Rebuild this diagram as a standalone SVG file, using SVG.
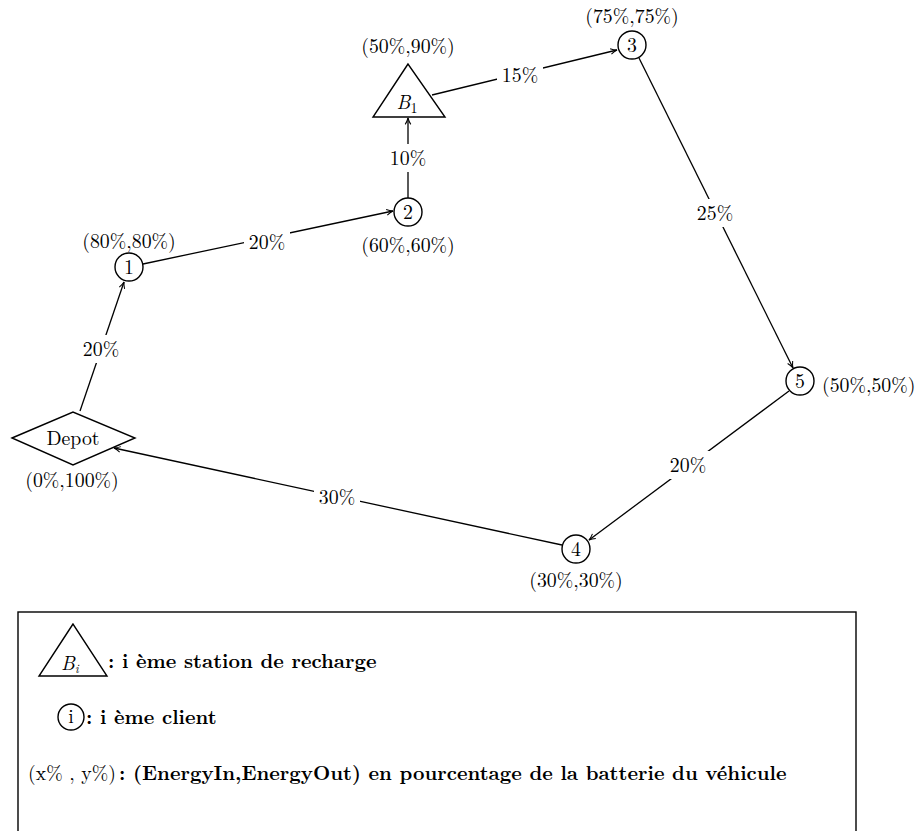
<svg xmlns="http://www.w3.org/2000/svg" width="915" height="831" viewBox="0 0 915 831">
<style>
text{font-family:"Latin Modern Roman","Liberation Serif","DejaVu Serif",serif;font-size:19.8px;fill:#000}
.lbl{text-anchor:middle}
.n{fill:#fff;stroke:#000;stroke-width:1.4}
.e{stroke:#000;stroke-width:1.3;fill:none;marker-end:url(#ar)}
.b{font-weight:bold;font-size:20px}
.bg{fill:#fff}
</style>
<defs>
<marker id="ar" viewBox="0 0 10 10" refX="9" refY="5" markerWidth="8" markerHeight="8" markerUnits="userSpaceOnUse" orient="auto">
<path d="M1,1.5 Q5,4 9,5 Q5,6 1,8.5" fill="none" stroke="#000" stroke-width="1.3"/>
</marker>
</defs>
<rect width="915" height="831" fill="#fff"/>
<g id="connectors">
<line class="e" x1="80" y1="411" x2="124" y2="282"/>
<line class="e" x1="143" y1="264" x2="393" y2="211"/>
<line class="e" x1="408" y1="198" x2="408" y2="118"/>
<line class="e" x1="432" y1="95" x2="617" y2="50"/>
<line class="e" x1="639" y1="58" x2="793" y2="368"/>
<line class="e" x1="789" y1="391" x2="589" y2="540"/>
<line class="e" x1="562" y1="545" x2="114" y2="448"/>
<rect class="bg" x="79" y="335" width="44" height="28"/>
<text class="lbl" x="101" y="356">20%</text>
<rect class="bg" x="244" y="228" width="46" height="28"/>
<text class="lbl" x="267" y="249">20%</text>
<rect class="bg" x="386" y="144" width="44" height="28"/>
<text class="lbl" x="408" y="165">10%</text>
<rect class="bg" x="497" y="61" width="46" height="28"/>
<text class="lbl" x="520" y="82">15%</text>
<rect class="bg" x="692" y="199" width="46" height="28"/>
<text class="lbl" x="715" y="220">25%</text>
<rect class="bg" x="665" y="451" width="46" height="28"/>
<text class="lbl" x="688" y="472">20%</text>
<rect class="bg" x="314" y="483" width="46" height="28"/>
<text class="lbl" x="337" y="504">30%</text>
</g>
<g id="depot">
<polygon class="n" points="12,438 73,412 135,438 73,465"/>
<text class="lbl" x="73" y="445">Depot</text>
<text class="lbl" x="72" y="487">(0%,100%)</text>
</g>
<g id="n1">
<circle class="n" cx="129" cy="267" r="14"/>
<text class="lbl" x="129" y="274">1</text>
<text class="lbl" x="129" y="248">(80%,80%)</text>
</g>
<g id="n2">
<circle class="n" cx="408" cy="212" r="14"/>
<text class="lbl" x="408" y="219">2</text>
<text class="lbl" x="408" y="252">(60%,60%)</text>
</g>
<g id="b1">
<polygon class="n" points="408,64 373,117 445,117"/>
<text class="lbl" x="407" y="109"><tspan font-style="italic">B</tspan><tspan font-size="14" dy="4">1</tspan></text>
<text class="lbl" x="408" y="53">(50%,90%)</text>
</g>
<g id="n3">
<circle class="n" cx="632" cy="45" r="14"/>
<text class="lbl" x="632" y="52">3</text>
<text class="lbl" x="632" y="23">(75%,75%)</text>
</g>
<g id="n5">
<circle class="n" cx="800" cy="381" r="14"/>
<text class="lbl" x="800" y="388">5</text>
<text x="822" y="392">(50%,50%)</text>
</g>
<g id="n4">
<circle class="n" cx="576" cy="549" r="14"/>
<text class="lbl" x="576" y="556">4</text>
<text class="lbl" x="576" y="587">(30%,30%)</text>
</g>
<g id="legend">
<rect x="18" y="612" width="838" height="240" fill="none" stroke="#000" stroke-width="1.4"/>
<polygon class="n" points="73,624 39,676 107,676"/>
<text x="61" y="670" font-style="italic" font-size="17.5">B<tspan font-size="12" dy="3">i</tspan></text>
<text class="b" x="108" y="668">: i ème station de recharge</text>
<circle class="n" cx="71" cy="717" r="13"/>
<text class="lbl" x="71" y="723" font-size="17.5">i</text>
<text class="b" x="86" y="724">: i ème client</text>
<text x="28" y="780" font-size="18">(x% , y%)</text>
<text class="b" x="119" y="780">: (EnergyIn,EnergyOut) en pourcentage de la batterie du véhicule</text>
</g>
</svg>
